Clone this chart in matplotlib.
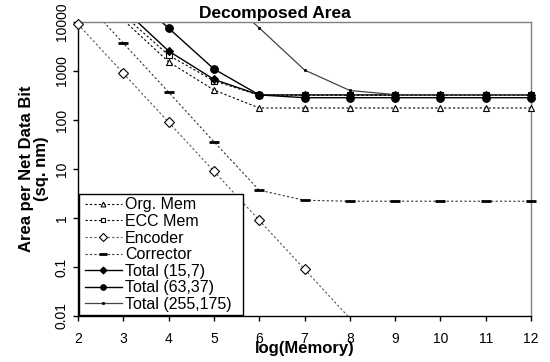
import numpy as np
import matplotlib
matplotlib.use("Agg")
import matplotlib.pyplot as plt
from matplotlib.lines import Line2D
from matplotlib.patches import Rectangle

plt.rcParams['font.family'] = ['Liberation Sans', 'DejaVu Sans']

# ---- data ----
x = [2, 3, 4, 5, 6, 7, 8, 9, 10, 11, 12]
org_mem = [100000, 11000, 1540, 410, 176, 176, 176, 176, 176, 176, 176]
ecc_mem = [130000, 14000, 2100, 630, 320, 320, 320, 320, 320, 320, 320]
encoder = [9000, 900, 90, 9, 0.9, 0.09, 0.009, 0.0009, 9e-5, 9e-6, 9e-7]
corrector = [37000, 3700, 370, 36, 3.7, 2.3, 2.2, 2.2, 2.2, 2.2, 2.2]
total_15_7 = [176000, 18600, 2560, 675, 325, 325, 325, 325, 325, 325, 325]
total_63_37 = [500000, 50000, 7500, 1100, 325, 285, 285, 285, 285, 285, 285]
total_255_175 = [2e7, 2.5e6, 350000, 50000, 7600, 1050, 400, 330, 330, 330, 330]

labels = ["Org. Mem", "ECC Mem", "Encoder", "Corrector",
          "Total (15,7)", "Total (63,37)", "Total (255,175)"]
yticks = [0.01, 0.1, 1, 10, 100, 1000, 10000]
yticklabels = ["0.01", "0.1", "1", "10", "100", "1000", "10000"]
xticks = [2, 3, 4, 5, 6, 7, 8, 9, 10, 11, 12]

W, H = 550, 362
fig = plt.figure(figsize=(W/100, H/100), dpi=100)
ax = fig.add_axes([78/W, 1-316/H, (531-78)/W, (316-22)/H])
ax.set_yscale('log')
ax.set_xlim(2, 12)
ax.set_ylim(0.01, 10000)

dot = (0, (2, 2))
styles = [
    dict(color='black', ls=dot, lw=0.8, marker='^', ms=5, mfc='white', mec='black', mew=0.8),
    dict(color='black', ls=dot, lw=0.8, marker='s', ms=5, mfc='white', mec='black', mew=0.8),
    dict(color='#555555', ls=dot, lw=0.8, marker='D', ms=5, mfc='white', mec='black', mew=0.8),
    dict(color='#333333', ls=dot, lw=0.8, marker='_', ms=7, mfc='black', mec='black', mew=2),
    dict(color='black', ls='-', lw=1.0, marker='D', ms=4, mfc='black', mec='black', mew=0.8),
    dict(color='black', ls='-', lw=1.0, marker='o', ms=5.5, mfc='black', mec='black', mew=0.8),
    dict(color='#444444', ls='-', lw=0.9, marker='s', ms=2, mfc='black', mec='black', mew=0.5),
]
leg_ms = [3.5, 3.5, 4, 6, 3.5, 4, 2]
series = [org_mem, ecc_mem, encoder, corrector, total_15_7, total_63_37, total_255_175]

xa = np.array(x, dtype=float)
handles = []
for ys, st, lab, lms in zip(series, styles, labels, leg_ms):
    ya = np.array(ys, dtype=float)
    line_kw = {k: v for k, v in st.items() if k in ('color', 'ls', 'lw')}
    mk_kw = {k: v for k, v in st.items() if k in ('marker', 'ms', 'mfc', 'mec', 'mew')}
    ax.plot(xa, ya, **line_kw, zorder=2)
    m = (ya >= 0.01) & (ya <= 10000 * 1.01)
    ax.plot(xa[m], ya[m], ls='none', **mk_kw, clip_on=False, zorder=3)
    hk = dict(mk_kw)
    hk['ms'] = lms
    handles.append(Line2D([], [], **line_kw, **hk, label=lab))

ax.set_xticks(xticks)
ax.set_xticklabels([str(v) for v in xticks])
ax.set_yticks(yticks)
ax.set_yticklabels(yticklabels, rotation=90, va='center')
ax.yaxis.set_minor_locator(matplotlib.ticker.NullLocator())
ax.tick_params(axis='both', direction='out', length=3.6, width=1, labelsize=10,
               colors='black')
ax.tick_params(axis='x', pad=8)
ax.tick_params(axis='y', pad=3)

for s in ('left', 'bottom'):
    ax.spines[s].set_color('black')
    ax.spines[s].set_linewidth(1)
for s in ('top', 'right'):
    ax.spines[s].set_color('#808080')
    ax.spines[s].set_linewidth(1)

ax.set_xlabel("log(Memory)", fontsize=12, fontweight='bold', labelpad=-4)
ax.set_ylabel("Area per Net Data Bit\n(sq. nm)", fontsize=12, fontweight='bold',
              labelpad=4, linespacing=1.0)
fig.text(0.5, 1-18/H, "Decomposed Area", ha='center', va='baseline',
         fontsize=12.5, fontweight='bold')

leg = ax.legend(handles=handles, loc='lower left',
                bbox_to_anchor=((85-78)/453, (316-312)/294), borderaxespad=0,
                fontsize=11.5, frameon=False, handlelength=2.3,
                handletextpad=0.2, labelspacing=0.1, borderpad=0)

fig.canvas.draw()
ext = leg.get_window_extent()
x0, y0 = ext.x0 - 6, ext.y0 - 3
x1, y1 = ext.x1 + 11, ext.y1 + 3
rect = Rectangle((x0/W, y0/H), (x1-x0)/W, (y1-y0)/H, transform=fig.transFigure,
                 fill=True, facecolor='white', edgecolor='black', lw=1, zorder=4)
ax.add_artist(rect)
rect.set_clip_on(False)
leg.set_zorder(5)

fig.savefig("out.png", dpi=100)
